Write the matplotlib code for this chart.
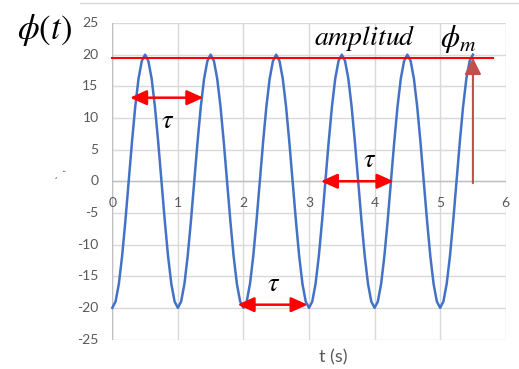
import numpy as np
import matplotlib
matplotlib.use("Agg")
import matplotlib.pyplot as plt
from matplotlib.lines import Line2D

plt.rcParams['mathtext.fontset'] = 'stix'
plt.rcParams['font.family'] = ['Lato', 'DejaVu Sans']

# ---- data ----
t_values = np.linspace(0.0, 5.5, 111)
phi_values = [
    -20.0, -19.0, -16.2, -11.8, -6.2, 0.0, 6.2, 11.8, 16.2, 19.0,
    20.0, 19.0, 16.2, 11.8, 6.2, 0.0, -6.2, -11.8, -16.2, -19.0,
    -20.0, -19.0, -16.2, -11.8, -6.2, 0.0, 6.2, 11.8, 16.2, 19.0,
    20.0, 19.0, 16.2, 11.8, 6.2, 0.0, -6.2, -11.8, -16.2, -19.0,
    -20.0, -19.0, -16.2, -11.8, -6.2, 0.0, 6.2, 11.8, 16.2, 19.0,
    20.0, 19.0, 16.2, 11.8, 6.2, 0.0, -6.2, -11.8, -16.2, -19.0,
    -20.0, -19.0, -16.2, -11.8, -6.2, 0.0, 6.2, 11.8, 16.2, 19.0,
    20.0, 19.0, 16.2, 11.8, 6.2, 0.0, -6.2, -11.8, -16.2, -19.0,
    -20.0, -19.0, -16.2, -11.8, -6.2, 0.0, 6.2, 11.8, 16.2, 19.0,
    20.0, 19.0, 16.2, 11.8, 6.2, 0.0, -6.2, -11.8, -16.2, -19.0,
    -20.0, -19.0, -16.2, -11.8, -6.2, 0.0, 6.2, 11.8, 16.2, 19.0,
    20.0,
]
x_ticks = [0, 1, 2, 3, 4, 5, 6]
y_ticks = [-25, -20, -15, -10, -5, 0, 5, 10, 15, 20, 25]
amplitude_line = 19.5
tau_arrows = [  # (x_start, x_end, y, label_x, label_y)
    (0.27, 1.39, 13.2, 0.84, 9.6),
    (1.91, 2.98, -19.5, 2.46, -16.2),
    (3.18, 4.29, 0.0, 3.92, 3.4),
]

# ---- figure ----
fig = plt.figure(figsize=(5.19, 3.69), dpi=100)
ax = fig.add_axes([112.3 / 519, 29.5 / 369, (505.7 - 112.3) / 519, (339.5 - 23) / 369])
ax.set_xlim(0, 6)
ax.set_ylim(-25, 25)

grid_c = '#D9D9D9'
for xv in x_ticks:
    ax.axvline(xv, color=grid_c, lw=1.0, zorder=0)
for yv in y_ticks:
    ax.axhline(yv, color=grid_c, lw=1.0, zorder=0)
ax.axvline(0, color='#BFBFBF', lw=1.0, zorder=1)
ax.axhline(0, color='#BFBFBF', lw=1.0, zorder=1)
for s in ax.spines.values():
    s.set_visible(False)
ax.set_xticks([])
ax.set_yticks([])

lab_c = '#595959'
for yv in y_ticks:
    ax.text(-0.21, yv, str(yv), ha='right', va='center', fontsize=10, color=lab_c)
for xv in x_ticks:
    ax.text(xv, -3.5, str(xv), ha='center', va='center', fontsize=10, color=lab_c)

ax.plot(t_values, phi_values, color='#4472C4', lw=1.8, zorder=3, clip_on=False)

# amplitude line
ax.plot([0, 5.8], [amplitude_line, amplitude_line], color='#FF0000', lw=1.5, zorder=4,
        clip_on=False)
ax.text(3.07, 20.3, r'$amplitud$', fontsize=20, ha='left', va='bottom', zorder=5)
ax.text(5.0, 19.9, r'$\phi_m$', fontsize=22, ha='left', va='bottom', zorder=5)

# phi_m arrow
ax.annotate('', xy=(5.5, amplitude_line), xytext=(5.5, -0.3),
            arrowprops=dict(arrowstyle='-|>,head_length=1.0,head_width=0.5',
                            color='#C0504D', lw=1.5, shrinkA=0, shrinkB=0), zorder=5)

# tau arrows
for x0, x1, yy, lx, ly in tau_arrows:
    ax.annotate('', xy=(x1, yy), xytext=(x0, yy),
                arrowprops=dict(arrowstyle='<|-|>,head_length=1.0,head_width=0.45',
                                color='#FF0000', lw=1.8, shrinkA=0, shrinkB=0), zorder=5)
    ax.text(lx, ly, r'$\tau$', fontsize=19, ha='center', va='center', zorder=5)

# axis labels
fig.text(44 / 519, 1 - 30 / 369, r'$\phi(t)$', fontsize=25, ha='center', va='center')
fig.text(333 / 519, 1 - 357 / 369, 't (s)', fontsize=13, ha='center', va='center',
         color=lab_c)
fig.text(62 / 519, 1 - 174 / 369, '` ,', fontsize=8, ha='center', va='center',
         rotation=90, color='#404040')

# chart border top line
fig.add_artist(Line2D([80 / 519, 1.0], [1 - 3 / 369, 1 - 3 / 369], color='#D9D9D9', lw=1.0))

fig.savefig('out.png', dpi=100)
